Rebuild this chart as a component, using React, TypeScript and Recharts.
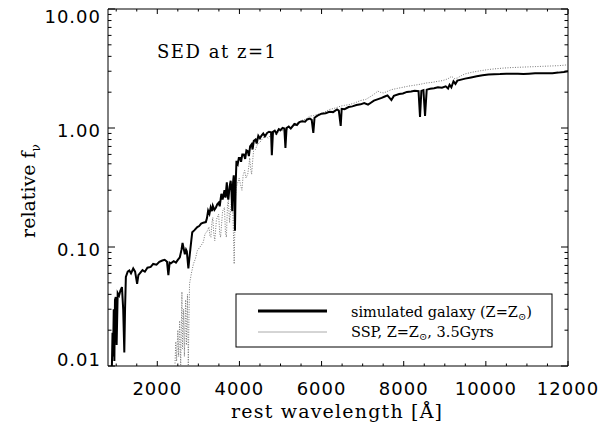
import React from 'react';
import { LineChart, Line, XAxis, YAxis, ReferenceArea } from 'recharts';

// rest wavelength [A] and relative f_nu
const galaxyWave = [
  895, 910, 923, 940, 955, 970, 989, 1010, 1036, 1070, 1102, 1140, 1170, 1197, 1215, 1235, 1280, 1320, 1360, 1414,
  1460, 1509, 1540, 1575, 1640, 1698, 1760, 1840, 1900, 1981, 2050, 2123, 2180, 2237, 2270, 2300, 2331, 2400, 2454, 2500,
  2549, 2590, 2615, 2640, 2671, 2700, 2719, 2757, 2780, 2804, 2830, 2851, 2900, 2974, 3020, 3068, 3120, 3182, 3210, 3238,
  3270, 3300, 3330, 3352, 3390, 3428, 3460, 3494, 3520, 3560, 3590, 3636, 3660, 3693, 3712, 3730, 3760, 3787, 3805, 3825,
  3845, 3862, 3878, 3891, 3910, 3928, 3960, 3985, 4013, 4040, 4070, 4108, 4140, 4170, 4203, 4230, 4260, 4297, 4320, 4350,
  4392, 4420, 4460, 4500, 4534, 4580, 4620, 4675, 4720, 4770, 4789, 4817, 4860, 4900, 4959, 5000, 5050, 5093, 5120, 5148,
  5200, 5250, 5337, 5400, 5460, 5526, 5600, 5650, 5715, 5760, 5799, 5829, 5900, 5999, 6100, 6188, 6280, 6377, 6420, 6466,
  6490, 6560, 6660, 6750, 6849, 6950, 7038, 7132, 7200, 7274, 7360, 7463, 7540, 7605, 7650, 7700, 7760, 7889, 7980, 8078,
  8180, 8267, 8361, 8397, 8430, 8480, 8519, 8560, 8645, 8740, 8834, 8930, 9023, 9080, 9117, 9160, 9212, 9260, 9306, 9400,
  9496, 9640, 9779, 9920, 10063, 10200, 10347, 10500, 10630, 10780, 10914, 11050, 11197, 11340, 11481, 11620, 11764, 11900, 12000,
];
const galaxyFlux = [
  0.010, 0.019, 0.012, 0.030, 0.011, 0.036, 0.038, 0.015, 0.041, 0.039, 0.043, 0.046, 0.030, 0.013, 0.030, 0.056, 0.062, 0.0635, 0.060, 0.066,
  0.062, 0.049, 0.058, 0.060, 0.064, 0.062, 0.067, 0.068, 0.072, 0.071, 0.075, 0.077, 0.078, 0.075, 0.058, 0.074, 0.073, 0.076, 0.074, 0.078,
  0.082, 0.095, 0.108, 0.098, 0.087, 0.095, 0.092, 0.066, 0.080, 0.095, 0.115, 0.133, 0.138, 0.147, 0.150, 0.157, 0.160, 0.162, 0.175, 0.202,
  0.190, 0.215, 0.200, 0.222, 0.205, 0.215, 0.228, 0.235, 0.220, 0.280, 0.250, 0.300, 0.260, 0.350, 0.270, 0.250, 0.320, 0.360, 0.300, 0.200,
  0.350, 0.400, 0.300, 0.137, 0.350, 0.530, 0.500, 0.560, 0.560, 0.520, 0.600, 0.600, 0.550, 0.650, 0.640, 0.580, 0.700, 0.730, 0.660, 0.780,
  0.800, 0.740, 0.860, 0.820, 0.860, 0.900, 0.850, 0.910, 0.930, 0.920, 0.590, 0.930, 0.950, 0.900, 0.980, 0.960, 1.000, 0.990, 0.680, 1.000,
  1.030, 0.990, 1.080, 1.060, 1.120, 1.140, 1.130, 1.180, 1.200, 1.170, 0.910, 1.220, 1.270, 1.320, 1.330, 1.370, 1.360, 1.430, 1.400, 1.040,
  1.450, 1.440, 1.500, 1.520, 1.560, 1.580, 1.620, 1.570, 1.630, 1.700, 1.740, 1.790, 1.840, 1.880, 1.800, 1.720, 1.860, 1.930, 1.950, 2.010,
  2.030, 2.060, 2.040, 1.240, 2.050, 2.080, 1.260, 2.100, 2.140, 2.160, 2.200, 2.180, 2.240, 2.150, 2.310, 2.200, 2.470, 2.350, 2.500, 2.550,
  2.600, 2.660, 2.720, 2.770, 2.810, 2.830, 2.840, 2.860, 2.860, 2.850, 2.840, 2.860, 2.880, 2.880, 2.880, 2.890, 2.920, 2.960, 3.000,
];

const sspWave = [
  2430, 2450, 2470, 2500, 2520, 2545, 2570, 2600, 2615, 2640, 2660, 2690, 2710, 2735, 2755, 2785, 2830, 2880, 2930, 2974,
  3020, 3068, 3120, 3163, 3210, 3258, 3280, 3305, 3330, 3352, 3375, 3400, 3440, 3494, 3520, 3541, 3590, 3636, 3660, 3683,
  3710, 3730, 3760, 3787, 3825, 3850, 3872, 3900, 3919, 3950, 3995, 4030, 4061, 4090, 4127, 4160, 4203, 4230, 4250, 4275,
  4297, 4320, 4344, 4390, 4439, 4500, 4581, 4650, 4700, 4770, 4850, 4900, 4959, 5050, 5148, 5250, 5337, 5430, 5526, 5620,
  5715, 5800, 5904, 6050, 6188, 6330, 6471, 6560, 6660, 6800, 6943, 7080, 7227, 7300, 7369, 7440, 7511, 7600, 7700, 7840,
  7984, 8120, 8267, 8400, 8550, 8700, 8834, 8940, 9023, 9100, 9165, 9230, 9306, 9400, 9496, 9680, 9874, 10060, 10252, 10440,
  10630, 10820, 11008, 11200, 11386, 11580, 11764, 11900, 12000,
];
const sspFlux = [
  0.010, 0.016, 0.011, 0.020, 0.012, 0.024, 0.010, 0.042, 0.014, 0.030, 0.012, 0.036, 0.015, 0.040, 0.010, 0.049, 0.060, 0.072, 0.080, 0.093,
  0.098, 0.103, 0.110, 0.129, 0.135, 0.147, 0.125, 0.121, 0.160, 0.177, 0.130, 0.113, 0.170, 0.189, 0.130, 0.121, 0.200, 0.215, 0.130, 0.121,
  0.230, 0.245, 0.160, 0.208, 0.280, 0.150, 0.072, 0.240, 0.316, 0.340, 0.380, 0.330, 0.300, 0.400, 0.440, 0.380, 0.410, 0.480, 0.560, 0.450,
  0.410, 0.520, 0.640, 0.660, 0.730, 0.760, 0.830, 0.850, 0.820, 0.885, 0.900, 0.870, 0.940, 0.950, 0.970, 1.020, 1.080, 1.120, 1.160, 1.190,
  1.260, 1.270, 1.300, 1.350, 1.430, 1.470, 1.530, 1.550, 1.570, 1.620, 1.700, 1.740, 1.870, 1.950, 2.040, 1.990, 1.970, 2.030, 2.100, 2.150,
  2.200, 2.250, 2.290, 2.330, 2.390, 2.420, 2.470, 2.500, 2.550, 2.620, 2.720, 2.600, 2.630, 2.750, 2.850, 2.950, 3.030, 3.100, 3.150, 3.190,
  3.220, 3.240, 3.260, 3.280, 3.300, 3.320, 3.340, 3.370, 3.400,
];

const xMajorTicks = [2000, 4000, 6000, 8000, 10000, 12000];
const xMinorTicks = [1000, 1500, 2500, 3000, 3500, 4500, 5000, 5500, 6500, 7000, 7500, 8500, 9000, 9500, 10500, 11000, 11500];
const yMajorTicks = [0.01, 0.1, 1, 10];
const yMinorTicks = [
  0.02, 0.03, 0.04, 0.05, 0.06, 0.07, 0.08, 0.09,
  0.2, 0.3, 0.4, 0.5, 0.6, 0.7, 0.8, 0.9,
  2, 3, 4, 5, 6, 7, 8, 9,
];

const galaxyData = galaxyWave.map((w, i) => ({ w, f: galaxyFlux[i] }));
const sspData = sspWave.map((w, i) => ({ w, f: sspFlux[i] }));

const W = 608;
const H = 428;
const PLOT_W = 460;
const PLOT_H = 357;

const tickFont = { fontFamily: 'DejaVu Sans', fontSize: 18, letterSpacing: 1, fill: '#000' };
const serif = 'DejaVu Serif';

const XTick = (props: any) => {
  const { x, y, payload } = props;
  const v = payload.value;
  const major = xMajorTicks.includes(v);
  const len = major ? 5 : 2.5;
  return (
    <g>
      <line x1={x} x2={x} y1={y} y2={y - len} stroke="#000" />
      <line x1={x} x2={x} y1={y - PLOT_H} y2={y - PLOT_H + len} stroke="#000" />
      {major && (
        <text x={x} y={y + 29} textAnchor="middle" {...tickFont}>
          {v}
        </text>
      )}
    </g>
  );
};

const YTick = (props: any) => {
  const { x, y, payload } = props;
  const v = payload.value;
  const major = yMajorTicks.includes(v);
  const len = major ? 7 : 3.5;
  const dy = v === 10 ? 14 : v === 0.01 ? 0 : 8.5;
  return (
    <g>
      <line x1={x} x2={x + len} y1={y} y2={y} stroke="#000" />
      <line x1={x + PLOT_W} x2={x + PLOT_W - len} y1={y} y2={y} stroke="#000" />
      {major && (
        <text x={x - 7} y={y + dy} textAnchor="end" {...tickFont}>
          {v.toFixed(2)}
        </text>
      )}
    </g>
  );
};

export default function App() {
  return (
    <div style={{ margin: '-8px 0 0 -8px', width: W, height: H }}>
      <LineChart width={W} height={H} margin={{ top: 9, right: 40, left: 0, bottom: 0 }}>
        <XAxis
          dataKey="w"
          type="number"
          domain={[800, 12000]}
          allowDataOverflow
          ticks={[...xMajorTicks, ...xMinorTicks].sort((a, b) => a - b)}
          interval={0}
          tickSize={0}
          tickMargin={0}
          tickLine={false}
          axisLine={false}
          tick={<XTick />}
          height={62}
        />
        <YAxis
          type="number"
          scale="log"
          domain={[0.01, 10]}
          allowDataOverflow
          ticks={[...yMajorTicks, ...yMinorTicks].sort((a, b) => a - b)}
          interval={0}
          tickSize={0}
          tickMargin={0}
          tickLine={false}
          axisLine={false}
          tick={<YTick />}
          width={108}
        />
        <ReferenceArea x1={800} x2={12000} y1={0.01} y2={10} fill="none" fillOpacity={0} stroke="#000" strokeWidth={1} />
        <Line
          data={sspData}
          dataKey="f"
          type="linear"
          stroke="#777"
          strokeWidth={1}
          strokeDasharray="1 1.5"
          dot={false}
          isAnimationActive={false}
        />
        <Line
          data={galaxyData}
          dataKey="f"
          type="linear"
          stroke="#000"
          strokeWidth={2}
          dot={false}
          isAnimationActive={false}
        />

        <text x={157} y={58} fontFamily={serif} fontSize={18} textLength={119} lengthAdjust="spacing">
          SED at z=1
        </text>
        <text x={231} y={418} fontFamily={serif} fontSize={19} textLength={211} lengthAdjust="spacing">
          rest wavelength [Å]
        </text>
        <text x={35} y={191} transform="rotate(-90 35 191)" textAnchor="middle" fontFamily={serif} fontSize={19}>
          relative f<tspan fontSize={12} dy={5}>ν</tspan>
        </text>

        <rect x={236} y={294} width={316} height={53} fill="#fff" stroke="#000" />
        <line x1={258} x2={327} y1={311} y2={311} stroke="#000" strokeWidth={3} />
        <line x1={258} x2={327} y1={332} y2={332} stroke="#aaa" strokeWidth={1} />
        <text x={351} y={317} fontFamily={serif} fontSize={14.5}>
          simulated galaxy (Z=Z<tspan fontSize={10} dy={3}>⊙</tspan>
          <tspan dy={-3}>)</tspan>
        </text>
        <text x={351} y={337} fontFamily={serif} fontSize={14.5}>
          SSP, Z=Z<tspan fontSize={10} dy={3}>⊙</tspan>
          <tspan dy={-3}>, 3.5Gyrs</tspan>
        </text>
      </LineChart>
    </div>
  );
}
